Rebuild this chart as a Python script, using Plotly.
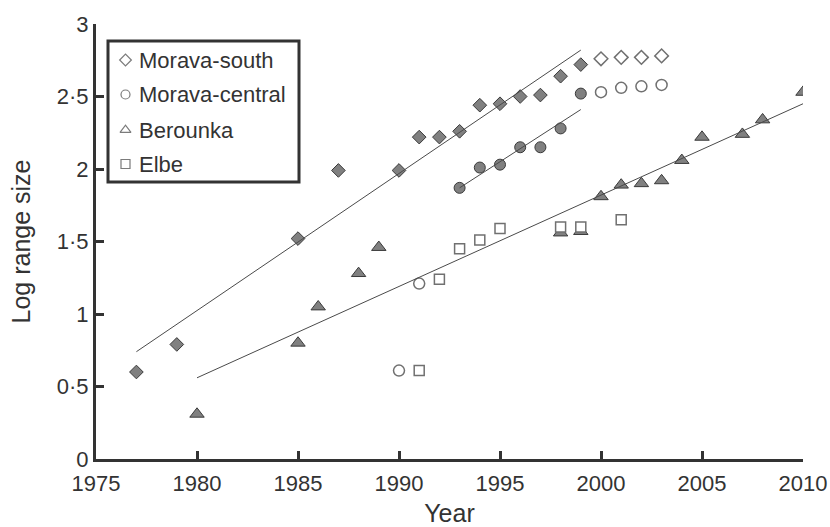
import plotly.graph_objects as go

# Morava-south (diamonds); points used in the fit are filled
ms_years = [1977, 1979, 1985, 1987, 1990, 1991, 1992, 1993, 1994, 1995, 1996, 1997, 1998, 1999,
            2000, 2001, 2002, 2003]
ms_values = [0.60, 0.79, 1.52, 1.99, 1.99, 2.22, 2.22, 2.26, 2.44, 2.45, 2.50, 2.51, 2.64, 2.72,
             2.76, 2.77, 2.77, 2.78]
ms_in_fit = [True, True, True, True, True, True, True, True, True, True, True, True, True, True,
             False, False, False, False]

# Morava-central (circles)
mc_years = [1990, 1991, 1993, 1994, 1995, 1996, 1997, 1998, 1999, 2000, 2001, 2002, 2003]
mc_values = [0.61, 1.21, 1.87, 2.01, 2.03, 2.15, 2.15, 2.28, 2.52, 2.53, 2.56, 2.57, 2.58]
mc_in_fit = [False, False, True, True, True, True, True, True, True, False, False, False, False]

# Berounka (triangles)
be_years = [1980, 1985, 1986, 1988, 1989, 1998, 1999, 2000, 2001, 2002, 2003, 2004, 2005, 2007,
            2008, 2010]
be_values = [0.31, 0.80, 1.05, 1.28, 1.46, 1.56, 1.57, 1.81, 1.89, 1.90, 1.92, 2.06, 2.22, 2.24,
             2.34, 2.53]
be_in_fit = [True, True, True, True, True, True, True, True, True, True, True, True, True, True,
             True, True]

# Elbe (squares)
el_years = [1991, 1992, 1993, 1994, 1995, 1998, 1999, 2001]
el_values = [0.61, 1.24, 1.45, 1.51, 1.59, 1.60, 1.60, 1.65]
el_in_fit = [False, False, False, False, False, False, False, False]

# Fitted regression lines (end points)
ms_fit_years = [1977, 1999]
ms_fit_values = [0.74, 2.82]
mc_fit_years = [1993, 1999]
mc_fit_values = [1.87, 2.41]
be_fit_years = [1980, 2010]
be_fit_values = [0.56, 2.45]

x_ticks = [1975, 1980, 1985, 1990, 1995, 2000, 2005, 2010]
y_ticks = [0, 0.5, 1, 1.5, 2, 2.5, 3]
y_tick_text = ["0", "0·5", "1", "1·5", "2", "2·5", "3"]

series_names = ["Morava-south", "Morava-central", "Berounka", "Elbe"]
series_symbols = ["diamond", "circle", "triangle-up", "square"]
series_sizes = [10.5, 11, 12.5, 10]
legend_sizes = [9, 9, 9.5, 9]

FONT = "Liberation Sans, Arial, sans-serif"
TXT = "#333333"
FILL = "#808080"
EDGE = "#3a3a3a"
OPEN_EDGE = "#707070"

# Figure geometry (pixels)
W, H = 830, 527
ML, MR, MT, MB = 96, 27, 24, 68
PW, PH = W - ML - MR, H - MT - MB


def px_x(px):
    return (px - ML) / PW


def px_y(py):
    return (H - MB - py) / PH


fig = go.Figure()

series = [
    (ms_years, ms_values, ms_in_fit),
    (mc_years, mc_values, mc_in_fit),
    (be_years, be_values, be_in_fit),
    (el_years, el_values, el_in_fit),
]

for (yrs, vals, flags), sym, size in zip(series, series_symbols, series_sizes):
    open_x = [x for x, f in zip(yrs, flags) if not f]
    open_y = [v for v, f in zip(vals, flags) if not f]
    fill_x = [x for x, f in zip(yrs, flags) if f]
    fill_y = [v for v, f in zip(vals, flags) if f]
    if open_x:
        fig.add_trace(go.Scatter(
            x=open_x, y=open_y, mode="markers", showlegend=False,
            marker=dict(symbol=sym, size=size, color="white",
                        line=dict(color=OPEN_EDGE, width=1.5))))
    if fill_x:
        fig.add_trace(go.Scatter(
            x=fill_x, y=fill_y, mode="markers", showlegend=False,
            marker=dict(symbol=sym, size=size, color=FILL,
                        line=dict(color=EDGE, width=1))))

for fx, fy in [(ms_fit_years, ms_fit_values), (mc_fit_years, mc_fit_values),
               (be_fit_years, be_fit_values)]:
    fig.add_trace(go.Scatter(x=fx, y=fy, mode="lines", showlegend=False,
                             line=dict(color="#4a4a4a", width=1)))

# Boxed key in the upper-left corner, drawn on an overlay axis in paper units
key_rows_px = [60, 94.5, 130, 164]
key_marker_px = 125.5
key_text_px = 137
fig.add_trace(go.Scatter(
    x=[px_x(key_marker_px)] * len(series_names),
    y=[px_y(v) for v in key_rows_px],
    xaxis="x2", yaxis="y2", mode="markers", showlegend=False, hoverinfo="skip",
    marker=dict(symbol=series_symbols, size=legend_sizes, color="white",
                line=dict(color="#444444", width=1.2))))

fig.add_shape(type="rect", xref="paper", yref="paper",
              x0=px_x(108), x1=px_x(299), y0=px_y(182), y1=px_y(41),
              line=dict(color="#333333", width=3), fillcolor="white", layer="below")

for name, row in zip(series_names, key_rows_px):
    fig.add_annotation(x=px_x(key_text_px), y=px_y(row), xref="paper", yref="paper",
                       text=name, showarrow=False, xanchor="left", yanchor="middle",
                       font=dict(family=FONT, size=22, color=TXT))

axis_common = dict(
    showline=True, linecolor="#333333", linewidth=3,
    ticks="inside", ticklen=8, tickwidth=3, tickcolor="#333333",
    showgrid=False, zeroline=False, automargin=False,
    tickfont=dict(family=FONT, size=22, color=TXT),
)

fig.update_layout(
    width=W, height=H,
    margin=dict(l=ML, r=MR, t=MT, b=MB),
    paper_bgcolor="white", plot_bgcolor="white",
    font=dict(family=FONT, color=TXT),
    showlegend=False,
    xaxis=dict(range=[1975, 2010], tickvals=x_ticks, ticklabelstandoff=3,
               title=dict(text="Year", font=dict(family=FONT, size=25, color=TXT), standoff=18),
               **axis_common),
    yaxis=dict(range=[0, 3], tickvals=y_ticks, ticktext=y_tick_text,
               title=dict(text="Log range size", font=dict(family=FONT, size=25, color=TXT),
                          standoff=20),
               **axis_common),
    xaxis2=dict(overlaying="x", anchor="y2", range=[0, 1], visible=False),
    yaxis2=dict(overlaying="y", anchor="x2", range=[0, 1], visible=False),
)

fig.write_html("out.html")
